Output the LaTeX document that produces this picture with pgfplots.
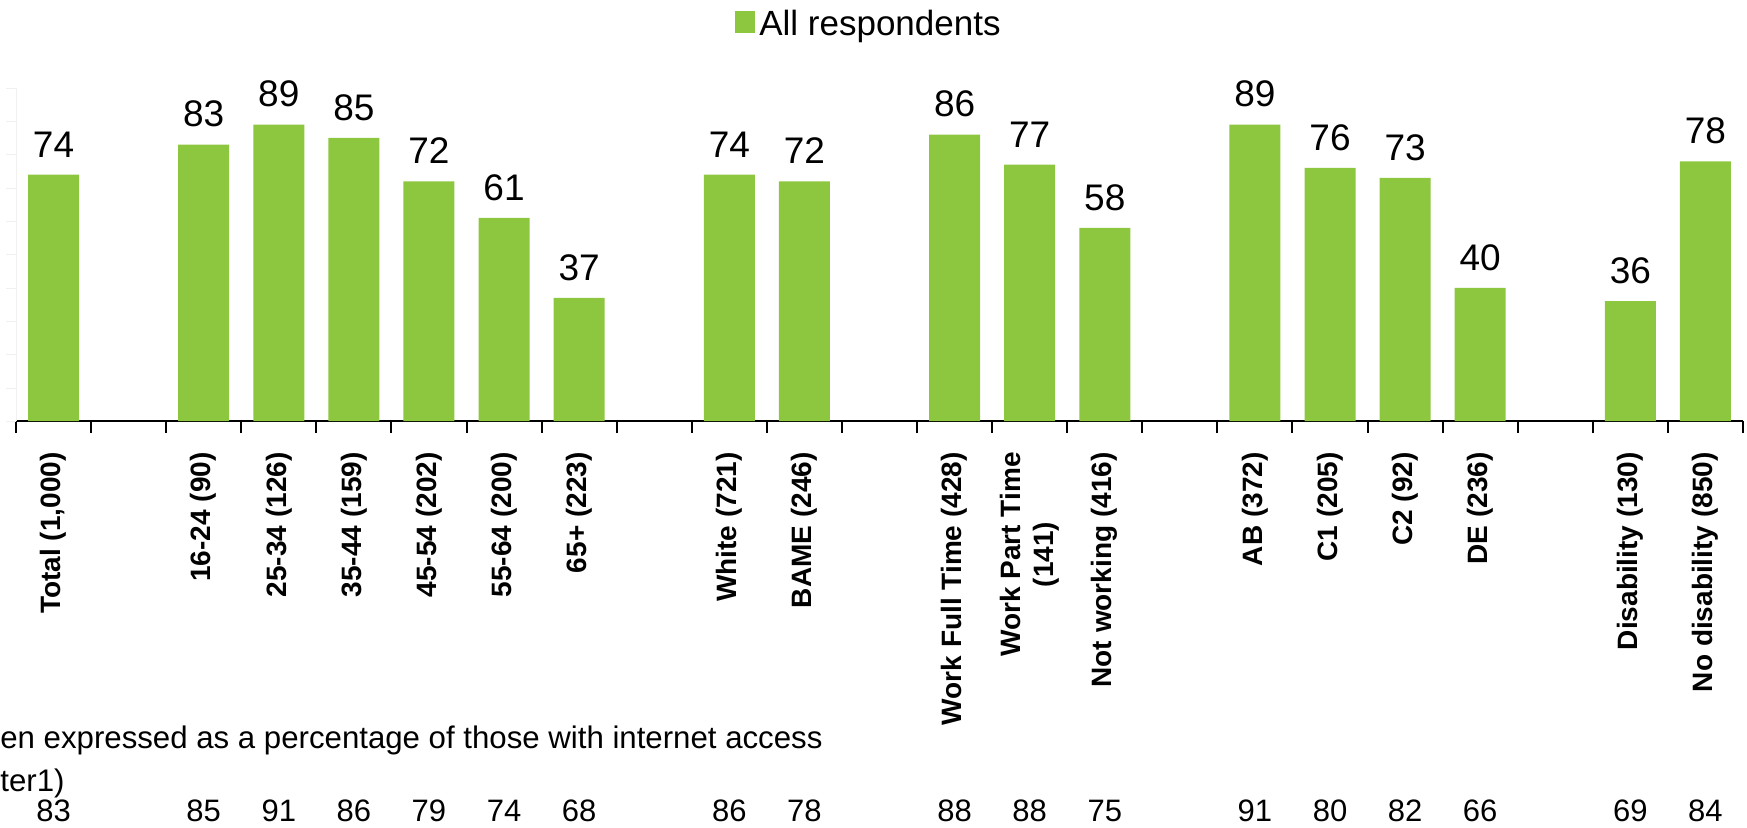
\documentclass[border=0pt]{standalone}
\usepackage{pgfplots}
\pgfplotsset{compat=1.18}
\usepackage{fontspec}
\setmainfont{Liberation Sans}
\definecolor{barc}{RGB}{141,198,63}
\newcommand{\bn}[2]{\node[anchor=base, inner sep=0pt, font=\fontsize{15.5}{18}\selectfont] at (axis cs:#1,-120.4) {#2};}
\begin{document}
\begin{tikzpicture}
\path[use as bounding box] (-8pt,-203pt) rectangle (865.5pt,210.5pt);
\begin{axis}[
  at={(0pt,0pt)}, anchor=south west,
  width=863.5pt, height=166.5pt, scale only axis,
  ybar, bar width=25.5pt,
  xmin=-0.5, xmax=22.5, ymin=0, ymax=100,
  enlarge x limits=false,
  /pgf/number format/assume math mode=true,
  axis x line=bottom, axis y line=left,
  x axis line style={black, line width=1.4pt, -},
  y axis line style={black!6, -},
  tick align=outside,
  xtick={0,...,22},
  xticklabels={{Total (1,000)},,{16-24 (90)},{25-34 (126)},{35-44 (159)},{45-54 (202)},{55-64 (200)},{65+ (223)},,{White (721)},{BAME (246)},,{Work Full Time (428)},{Work Part Time\\(141)},{Not working (416)},,{AB (372)},{C1 (205)},{C2 (92)},{DE (236)},,{Disability (130)},{No disability (850)}},
  major x tick style={draw=none},
  minor xtick={-0.5,0.5,...,22.5},
  minor x tick style={draw=black, line width=1pt},
  minor tick length=6pt,
  xticklabel style={rotate=90, anchor=east, align=center, inner sep=0pt,
    font=\bfseries\fontsize{14}{16.5}\selectfont},
  xticklabel shift=10.5pt,
  ytick={0,10,...,100}, yticklabels={},
  major y tick style={draw=black!6},
  major tick length=5pt,
  clip=false,
  nodes near coords,
  every node near coord/.append style={font=\fontsize{18.5}{22}\selectfont, inner sep=0pt, anchor=south, yshift=8.5pt, black},
  legend style={at={(axis description cs:0.4945,1.192)}, anchor=center, draw=none,
    font=\fontsize{17.5}{20}\selectfont, inner sep=0pt,
    /tikz/every even column/.append style={column sep=0pt}},
  legend image code/.code={\fill[barc] (0pt,-4.5pt) rectangle (10pt,6.5pt);},
]
\addplot[fill=barc, draw=none] coordinates {
(0,74) (2,83) (3,89) (4,85) (5,72) (6,61) (7,37)
(9,74) (10,72) (12,86) (13,77) (14,58)
(16,89) (17,76) (18,73) (19,40) (21,36) (22,78)};
\addlegendentry{All respondents}
\bn{0}{83}\bn{2}{85}\bn{3}{91}\bn{4}{86}\bn{5}{79}\bn{6}{74}\bn{7}{68}
\bn{9}{86}\bn{10}{78}\bn{12}{88}\bn{13}{88}\bn{14}{75}
\bn{16}{91}\bn{17}{80}\bn{18}{82}\bn{19}{66}\bn{21}{69}\bn{22}{84}
\end{axis}
\node[anchor=base west, inner sep=0pt, font=\fontsize{15.6}{18}\selectfont] at (-8pt,-163.5pt) {en expressed as a percentage of those with internet access};
\node[anchor=base west, inner sep=0pt, font=\fontsize{15.6}{18}\selectfont] at (-8pt,-185pt) {ter1)};
\end{tikzpicture}
\end{document}
